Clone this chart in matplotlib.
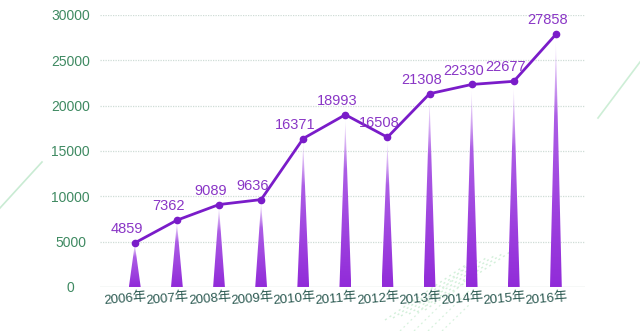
import matplotlib

matplotlib.use("Agg")

import matplotlib.pyplot as plt
import numpy as np
from matplotlib.patches import Polygon
from matplotlib.transforms import offset_copy


years = ["2006年", "2007年", "2008年", "2009年", "2010年", "2011年",
         "2012年", "2013年", "2014年", "2015年", "2016年"]
values = [4859, 7362, 9089, 9636, 16371, 18993, 16508, 21308, 22330, 22677, 27858]
yticks = [0, 5000, 10000, 15000, 20000, 25000, 30000]

LINE = "#7a1cc9"
LABEL = "#8a36c6"
YTICK = "#3f8a62"
XTICK = "#2c5a52"
FONT = ["Liberation Sans", "Noto Sans CJK SC", "DejaVu Sans"]


def spike_image(n=200):
    # vertical gradient: deep purple at the base, a bit lighter and fading at the tip
    t = np.linspace(0, 1, n)[:, None]
    bottom = np.array([0.57, 0.17, 0.85])
    top = np.array([0.72, 0.45, 0.92])
    rgb = bottom + (top - bottom) * t[..., None]
    alpha = np.clip(1.0 - np.maximum(t - 0.7, 0) / 0.3 * 0.9, 0, 1)
    img = np.concatenate([rgb, alpha[..., None]], axis=-1)
    return np.repeat(img, 2, axis=1)


def main() -> None:
    plt.rcParams["font.family"] = FONT
    fig = plt.figure(figsize=(6.4, 3.31), dpi=100)
    fig.patch.set_facecolor("white")

    # faint decorative strokes in the background
    deco = fig.add_axes([0, 0, 1, 1], zorder=0)
    deco.set_xlim(0, 640)
    deco.set_ylim(331, 0)
    deco.axis("off")
    deco.plot([0, 42], [208, 162], color="#c9ebd3", lw=1.2)
    deco.plot([598, 640], [118, 62], color="#cdeed6", lw=1.2)
    for k in range(6):
        deco.plot([385 + k * 8, 470 + k * 8], [320 - k * 2, 262 - k * 2],
                  color="#d3f0da", lw=1.0, ls=(0, (1.5, 2.5)))
    for k in range(4):
        deco.plot([400 + k * 14, 470], [331, 262 + k * 14],
                  color="#d8f2de", lw=0.9, ls=(0, (1.5, 2.5)))

    ax = fig.add_axes([0.156, 0.133, 0.758, 0.822], zorder=1)
    ax.patch.set_alpha(0)
    x = np.arange(len(values))

    ax.set_xlim(-0.83, len(values) - 1 + 0.69)
    ax.set_ylim(0, 30000)

    for yv in yticks[1:]:
        ax.axhline(yv, color="#cfdcd6", lw=0.9, ls=(0, (1, 1)), zorder=1)
    ax.axhline(0, color="#d5dcda", lw=1.0, zorder=1)

    img = spike_image()
    half = 0.14
    for xi, v in zip(x, values):
        tip = v * 0.97
        tri = Polygon([(xi - half, 0), (xi + half, 0), (xi, tip)], closed=True,
                      facecolor="none", edgecolor="none")
        ax.add_patch(tri)
        im = ax.imshow(img, extent=(xi - half, xi + half, 0, tip), origin="lower",
                       aspect="auto", interpolation="bilinear", zorder=2)
        im.set_clip_path(tri)

    ax.plot(x, values, color=LINE, lw=2.0, marker="o", ms=4.5, zorder=4)

    for xi, v in zip(x, values):
        ax.annotate(f"{v}", (xi, v), xytext=(-6, 5), textcoords="offset points",
                    ha="center", va="bottom", color=LABEL, fontsize=10.5, zorder=5)

    for s in ax.spines.values():
        s.set_visible(False)
    ax.tick_params(length=0)
    ax.set_yticks(yticks)
    ax.set_yticklabels([str(t) for t in yticks], color=YTICK, fontsize=10)
    # y labels are centred in a column left of the plot
    ax.tick_params(axis="y", pad=21)
    for lab in ax.get_yticklabels():
        lab.set_horizontalalignment("center")
    ax.set_xticks(x)
    ax.set_xticklabels([])
    shift = offset_copy(ax.get_xaxis_transform(), fig=fig, x=-7, y=-4, units="points")
    for xi, lab in zip(x, years):
        ax.text(xi, 0, lab, transform=shift, ha="center", va="top", rotation=5,
                rotation_mode="anchor", color=XTICK, fontsize=9.5)

    fig.savefig("out.png", dpi=100)


if __name__ == "__main__":
    main()
